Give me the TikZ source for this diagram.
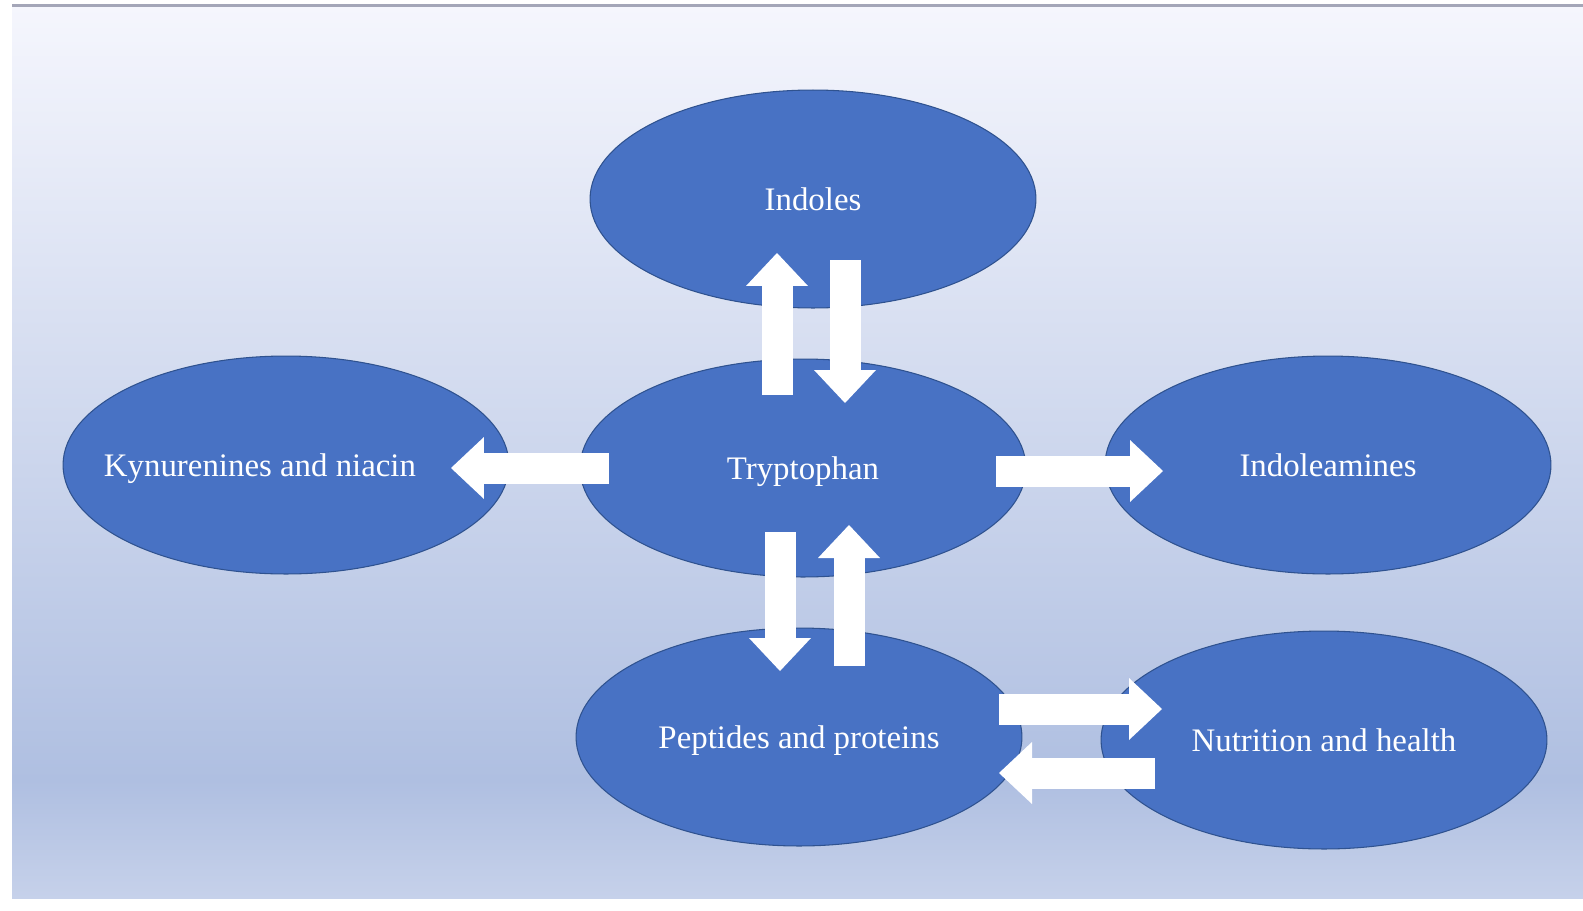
\documentclass[tikz,border=0pt]{standalone}
\usepackage{fontspec}
\setmainfont{Liberation Serif}
\usetikzlibrary{shapes.geometric,arrows.meta,calc}
\definecolor{bubble}{HTML}{4872C4}
\definecolor{bubbleline}{HTML}{2F528F}
\definecolor{bgtop}{HTML}{F5F6FD}
\definecolor{bgdark}{HTML}{AFBFE1}
\definecolor{bgbot}{HTML}{C6D1EA}
\definecolor{rim}{HTML}{A4A6B8}
\pgfdeclareverticalshading{backshade}{100bp}{color(0bp)=(bgbot); color(25bp)=(bgbot); color(31.6bp)=(bgdark); color(75bp)=(bgtop); color(100bp)=(bgtop)}
\begin{document}
\begin{tikzpicture}[
        x=0.02cm,y=-0.02cm,
        every node/.style={
            text=white,
            font=\fontsize{18.7}{22}\selectfont
        },
        bubble/.style={
            ellipse,draw=bubbleline,line width=0.6pt,fill=bubble,
            inner sep=0pt,minimum width=8.92cm,minimum height=4.36cm,
            text height=0.5cm,text depth=0.04cm
        },
        flow/.style={
            draw=white,line width=0.62cm,
            -{Triangle[width=1.24cm,length=0.66cm,line width=0pt]}
        }
    ]
    \useasboundingbox (0,0) rectangle (1583,910);
% Background
    \shade[shading=backshade] (12,6) rectangle (1583,898);
    \draw[rim,line width=1.2pt] (12,5.5) -- (1583,5.5);
% Bubbles
    \node[bubble] (ind) at (813,199) {\makebox[0pt]{Indoles}};
    \node[bubble] (trp) at (803,468) {\makebox[0pt]{Tryptophan}};
    \node[bubble] (kyn) at (286,465) {\makebox[0pt]{Kynurenines and niacin\kern1.04cm}};
    \node[bubble] (iam) at (1328,465) {\makebox[0pt]{Indoleamines}};
    \node[bubble] (pep) at (799,737) {\makebox[0pt]{Peptides and proteins}};
    \node[bubble] (nut) at (1324,740) {\makebox[0pt]{Nutrition and health}};
% Arrows
    \draw[flow] ($(trp)+(-26,-73)$) -- ($(ind)+(-36,54)$);
    \draw[flow] ($(ind)+(32,61)$) -- ($(trp)+(42,-65)$);
    \draw[flow] ($(trp)+(-194,0)$) -- ($(kyn)+(165,3)$);
    \draw[flow] ($(trp)+(193,3)$) -- ($(iam)+(-165,6)$);
    \draw[flow] ($(trp)+(-23,64)$) -- ($(pep)+(-19,-66)$);
    \draw[flow] ($(pep)+(50,-71)$) -- ($(trp)+(46,57)$);
    \draw[flow] ($(pep)+(200,-28)$) -- ($(nut)+(-162,-31)$);
    \draw[flow] ($(nut)+(-169,33)$) -- ($(pep)+(200,36)$);
\end{tikzpicture}
\end{document}
